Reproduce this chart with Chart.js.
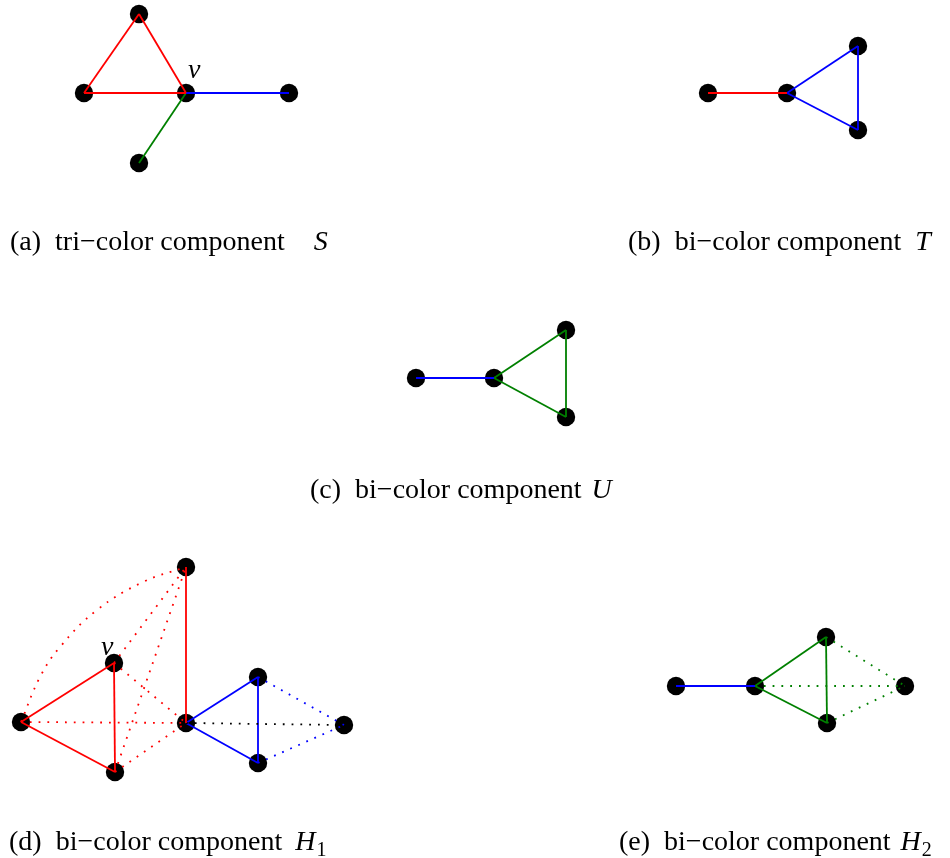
<!DOCTYPE html>
<html>
<head>
<meta charset="utf-8">
<script src="https://cdn.jsdelivr.net/npm/chart.js@4.4.0/dist/chart.umd.min.js"></script>
<style>
  html, body { margin: 0; padding: 0; background: #fff; }
  #graphs { display: block; }
</style>
</head>
<body>
<canvas id="graphs" width="950" height="858"></canvas>
<script>
// node positions of each component, in picture units (y grows downward)
const nodesS = [[139, 14], [84, 93], [186, 93], [289, 93], [139, 163]];
const edgesS = [[0, 1, "red"], [0, 2, "red"], [1, 2, "red"], [2, 3, "blue"], [2, 4, "green"]];

const nodesT = [[708, 93], [787, 93], [858, 46], [858, 130]];
const edgesT = [[0, 1, "red"], [1, 2, "blue"], [1, 3, "blue"], [2, 3, "blue"]];

const nodesU = [[416, 378], [494, 378], [566, 330], [566, 417]];
const edgesU = [[0, 1, "blue"], [1, 2, "green"], [1, 3, "green"], [2, 3, "green"]];

// H1: top, v, left, middle, bottom, blue top, blue bottom, right
const nodesH1 = [[186, 567], [114, 663], [21, 722], [186, 723], [115, 772], [258, 677], [258, 763], [344, 725]];
const edgesH1 = [
    [2, 1, "red"], [1, 4, "red"], [2, 4, "red"], [3, 0, "red"],
    [2, 3, "red:"], [1, 3, "red:"], [1, 0, "red:"], [4, 0, "red:"], [4, 3, "red:"],
    [3, 7, "black:"],
    [3, 5, "blue"], [3, 6, "blue"], [5, 6, "blue"], [5, 7, "blue:"], [6, 7, "blue:"]
];
// the bent dotted edge from the left node up to the top node
const arcH1 = [[21, 722], [40, 677], [60, 647], [97, 610], [143, 582], [186, 567]];

const nodesH2 = [[676, 686], [755, 686], [826, 637], [827, 723], [905, 686]];
const edgesH2 = [
    [0, 1, "blue"], [1, 2, "green"], [1, 3, "green"], [2, 3, "green"],
    [1, 4, "green:"], [2, 4, "green:"], [3, 4, "green:"]
];

const captionText = ["(a)  tri\u2212color component", "(b)  bi\u2212color component",
    "(c)  bi\u2212color component", "(d)  bi\u2212color component", "(e)  bi\u2212color component"];
const captionSymbol = ["S", "T", "U", "H", "H"];
const captionSub = ["", "", "", "1", "2"];

// where the captions and the "v" marks sit
const captionPos = [[10, 250], [628, 250], [310, 498], [9, 850], [619, 850]];
const symbolGap = [29, 14, 10, 13, 10];
const vMarks = [[188, 78], [101, 655]];

const colours = { red: "#ff0000", blue: "#0000ff", green: "#008000", black: "#000000" };

const datasets = [];
const components = [[nodesS, edgesS], [nodesT, edgesT], [nodesU, edgesU], [nodesH1, edgesH1], [nodesH2, edgesH2]];
components.forEach(([nodes, edges]) => {
    edges.forEach(([a, b, kind]) => {
        const dotted = kind.endsWith(":");
        datasets.push({
            data: [{ x: nodes[a][0], y: nodes[a][1] }, { x: nodes[b][0], y: nodes[b][1] }],
            showLine: true,
            borderColor: colours[kind.replace(":", "")],
            borderWidth: 1.8,
            borderDash: dotted ? [1.8, 7] : [],
            pointRadius: 0,
            clip: false,
            order: 0
        });
    });
});
datasets.push({
    data: arcH1.map(p => ({ x: p[0], y: p[1] })),
    showLine: true,
    tension: 0.4,
    borderColor: colours.red,
    borderWidth: 1.8,
    borderDash: [1.8, 7],
    pointRadius: 0,
    clip: false,
    order: 0
});
// nodes go underneath the edges
datasets.push({
    data: components.flatMap(([nodes]) => nodes.map(p => ({ x: p[0], y: p[1] }))),
    pointRadius: 9.2,
    pointBackgroundColor: "#000",
    pointBorderWidth: 0,
    clip: false,
    order: 10
});

const captionPlugin = {
    id: "captions",
    afterDraw(chart) {
        const ctx = chart.ctx;
        const sx = chart.scales.x, sy = chart.scales.y;
        ctx.save();
        ctx.fillStyle = "#000";
        ctx.textBaseline = "alphabetic";
        captionText.forEach((txt, i) => {
            const px = sx.getPixelForValue(captionPos[i][0]);
            const py = sy.getPixelForValue(captionPos[i][1]);
            ctx.font = "28px 'Liberation Serif'";
            ctx.fillText(txt, px, py);
            let x = px + ctx.measureText(txt).width + symbolGap[i];
            ctx.font = "italic 28px 'Liberation Serif'";
            ctx.fillText(captionSymbol[i], x, py);
            x += ctx.measureText(captionSymbol[i]).width + 1;
            if (captionSub[i]) {
                ctx.font = "20px 'Liberation Serif'";
                ctx.fillText(captionSub[i], x, py + 6);
            }
        });
        ctx.font = "italic 28px 'Liberation Serif'";
        vMarks.forEach(([x, y]) => {
            ctx.fillText("v", sx.getPixelForValue(x), sy.getPixelForValue(y));
        });
        ctx.restore();
    }
};

new Chart(document.getElementById("graphs").getContext("2d"), {
    type: "scatter",
    data: { datasets: datasets },
    options: {
        responsive: false,
        animation: false,
        events: [],
        layout: { padding: 0, autoPadding: false },
        scales: {
            x: { type: "linear", min: 0, max: 950, display: false },
            y: { type: "linear", min: 0, max: 858, reverse: true, display: false }
        },
        plugins: { legend: { display: false }, tooltip: { enabled: false } }
    },
    plugins: [captionPlugin]
});
</script>
</body>
</html>
